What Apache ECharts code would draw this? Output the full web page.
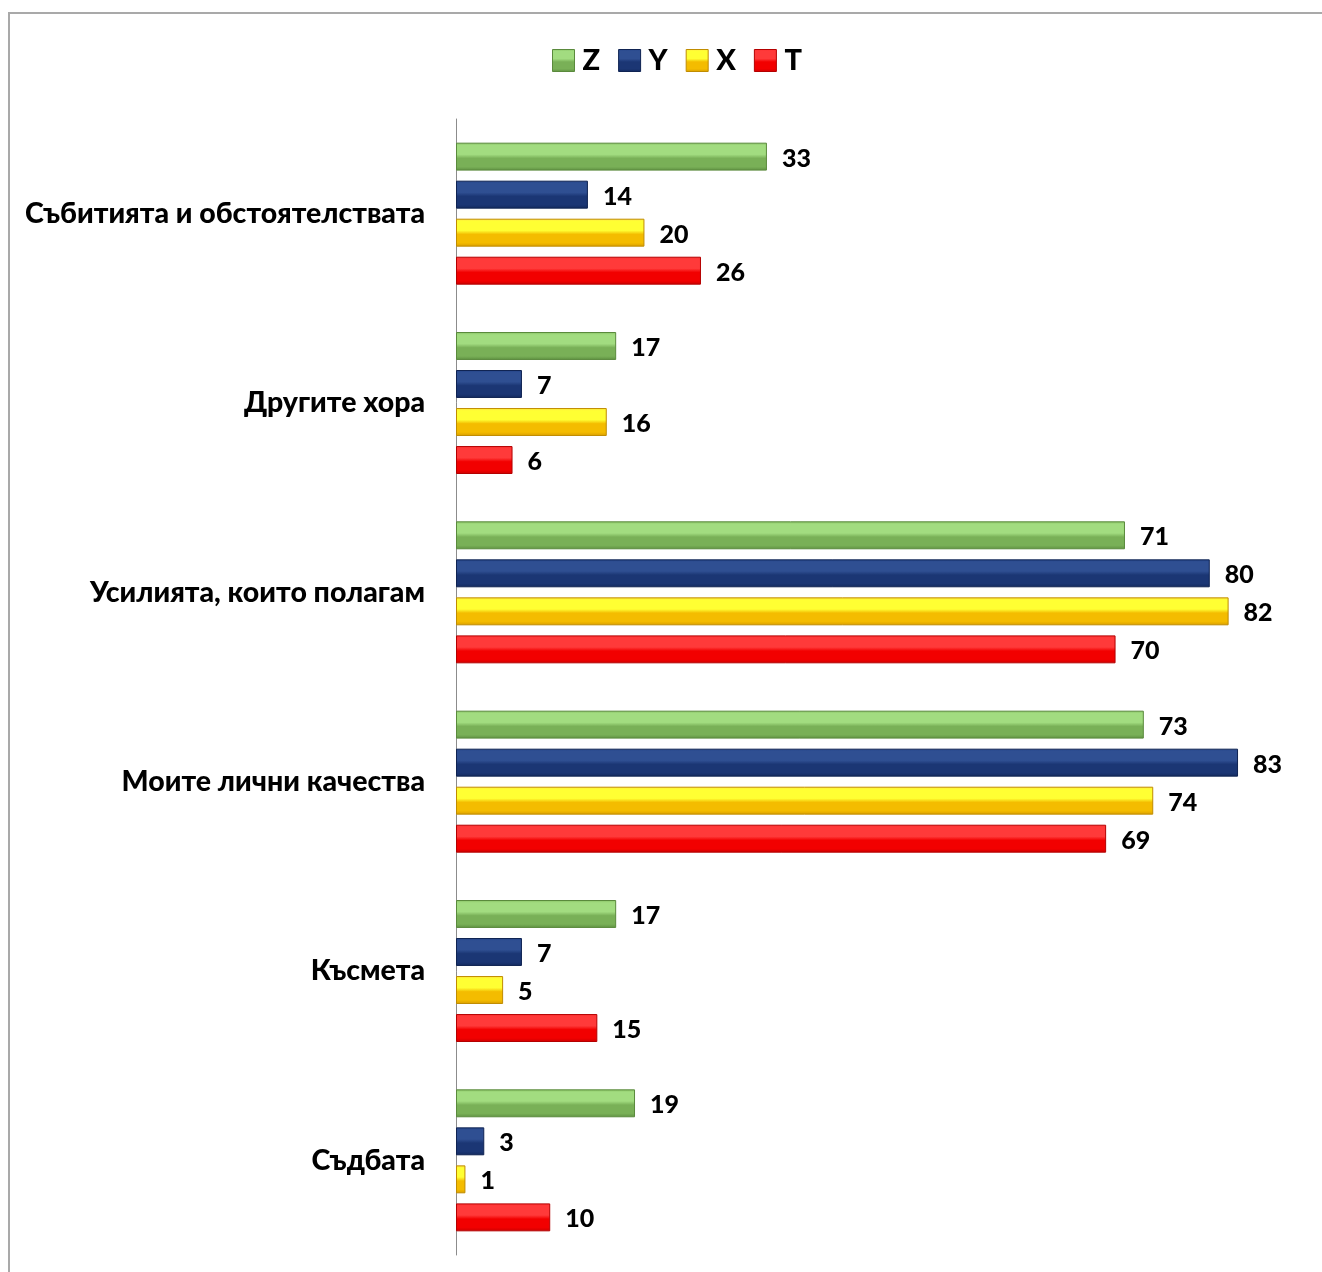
<!DOCTYPE html>
<html>
<head>
<meta charset="utf-8">
<script src="https://cdn.jsdelivr.net/npm/echarts@6/dist/echarts.min.js"></script>
<style>
  html, body { margin: 0; padding: 0; background: #fff; }
  #chart { width: 1322px; height: 1272px; }
</style>
</head>
<body>
<div id="chart"></div>
<script>
// Categories, top to bottom
const categories = [
  'Събитията и обстоятелствата',
  'Другите хора',
  'Усилията, които полагам',
  'Моите лични качества',
  'Късмета',
  'Съдбата'
];
const seriesNames = ['Z', 'Y', 'X', 'T'];
const valuesZ = [33, 17, 71, 73, 17, 19];
const valuesY = [14, 7, 80, 83, 7, 3];
const valuesX = [20, 16, 82, 74, 5, 1];
const valuesT = [26, 6, 70, 69, 15, 10];

const FONT = 'Lato, "Open Sans", "Noto Sans", sans-serif';

// Beveled look: light upper half, base lower half, darker bottom edge
function bevel(top, light, base, dark) {
  return new echarts.graphic.LinearGradient(0, 0, 0, 1, [
    { offset: 0, color: top },
    { offset: 0.1, color: light },
    { offset: 0.42, color: light },
    { offset: 0.56, color: base },
    { offset: 0.86, color: base },
    { offset: 1, color: dark }
  ]);
}

const palette = {
  Z: { fill: bevel('#86c062', '#a2dc80', '#79b057', '#5f9142'), border: '#5a8a3c', legend: '#7ab553' },
  Y: { fill: bevel('#25468c', '#2f4f92', '#1b3674', '#132a5e'), border: '#0f2352', legend: '#1f3f86' },
  X: { fill: bevel('#ffe640', '#ffff33', '#f4bc00', '#d99e00'), border: '#c08c00', legend: '#ffcc00' },
  T: { fill: bevel('#ff3030', '#ff3a3a', '#f20000', '#cc0000'), border: '#b40000', legend: '#ff0000' }
};

const dataBySeries = { Z: valuesZ, Y: valuesY, X: valuesX, T: valuesT };

const series = seriesNames.map(name => ({
  name: name,
  type: 'bar',
  data: dataBySeries[name],
  barGap: '36%',
  barCategoryGap: '25%',
  itemStyle: {
    color: palette[name].fill,
    borderColor: palette[name].border,
    borderWidth: 1
  },
  label: {
    show: true,
    position: 'right',
    distance: 15,
    offset: [0, 2],
    color: '#000',
    fontFamily: FONT,
    fontWeight: 900,
    fontSize: 25
  }
}));

const chart = echarts.init(document.getElementById('chart'), null, { renderer: 'canvas' });
chart.setOption({
  animation: false,
  color: seriesNames.map(n => palette[n].legend),
  graphic: [{
    type: 'rect',
    shape: { x: 9, y: 13, width: 1400, height: 1400 },
    style: { fill: 'none', stroke: '#a9a9a9', lineWidth: 2 },
    silent: true
  }],
  legend: {
    top: 41,
    left: 547,
    itemWidth: 22,
    itemHeight: 22,
    itemGap: 18,
    icon: 'rect',
    textStyle: { fontFamily: FONT, fontWeight: 900, fontSize: 29, color: '#000', padding: [0, 0, 0, 3] },
    data: seriesNames.map(n => ({ name: n, itemStyle: { color: palette[n].fill, borderColor: palette[n].border, borderWidth: 1 } }))
  },
  grid: { left: 456, top: 119, width: 848, height: 1136, containLabel: false },
  xAxis: {
    type: 'value',
    min: 0,
    max: 90,
    show: false
  },
  yAxis: {
    type: 'category',
    inverse: true,
    data: categories,
    axisLine: { show: true, lineStyle: { color: '#8c8c8c', width: 1 } },
    axisTick: { show: false },
    axisLabel: {
      margin: 31,
      color: '#000',
      fontFamily: FONT,
      fontWeight: 900,
      fontSize: 28.5
    }
  },
  series: series
});
</script>
</body>
</html>
